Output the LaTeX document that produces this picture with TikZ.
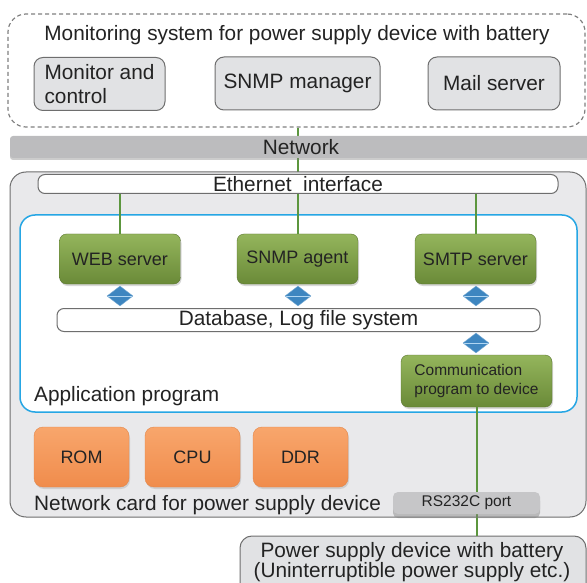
\documentclass[tikz,border=0pt]{standalone}
\usepackage{fontspec}
\setmainfont{Liberation Sans}
\usetikzlibrary{shapes.geometric,shadows,positioning}
\definecolor{CardGray}{RGB}{233,233,235}
\definecolor{BoxGray}{RGB}{225,226,228}
\definecolor{EdgeGray}{RGB}{110,110,110}
\definecolor{DashGray}{RGB}{128,128,128}
\definecolor{BarGray}{RGB}{188,188,190}
\definecolor{AppBlue}{RGB}{38,166,228}
\definecolor{LinkGreen}{RGB}{92,150,62}
\definecolor{LeafTop}{RGB}{148,181,92}
\definecolor{LeafBot}{RGB}{106,138,56}
\definecolor{OrangeTop}{RGB}{248,166,108}
\definecolor{OrangeBot}{RGB}{240,140,76}
\definecolor{OrangeEdge}{RGB}{228,134,72}
\definecolor{DiaBlue}{RGB}{62,134,192}
\definecolor{DiaLine}{RGB}{176,214,242}
\definecolor{InkGray}{RGB}{35,35,35}
\newcommand{\mainsize}{\fontsize{20.8}{24}\selectfont}
\newcommand{\boxsize}{\fontsize{18}{21}\selectfont}
\newcommand{\smallsize}{\fontsize{15.5}{19.5}\selectfont}

\tikzset{
  graybox/.style={draw=EdgeGray,fill=BoxGray,rounded corners=9pt,
    line width=1pt,minimum height=53pt,inner sep=0pt},
  greenbox/.style={draw=LeafBot!85!black,top color=LeafTop,bottom color=LeafBot,
    rounded corners=7pt,line width=0.4pt,
    minimum width=121pt,minimum height=50pt,font=\boxsize,
    drop shadow={opacity=0.3,shadow xshift=1pt,shadow yshift=-2pt}},
  orangebox/.style={draw=OrangeEdge,top color=OrangeTop,bottom color=OrangeBot,
    rounded corners=9pt,minimum width=95pt,minimum height=60pt,font=\boxsize,
    drop shadow={opacity=0.25,shadow xshift=1pt,shadow yshift=-2pt}},
  whitebar/.style={draw=EdgeGray,fill=white,rounded corners=7pt,
    line width=1pt,inner sep=0pt},
  link/.style={LinkGreen,line width=2pt},
  dia/.style={diamond,draw=DiaBlue!70!white,fill=DiaBlue,inner sep=0pt,
    minimum width=26pt,minimum height=20pt,
    path picture={\draw[DiaLine,line width=1pt]
      (path picture bounding box.west)--(path picture bounding box.east);}},
  label/.style={inner sep=0pt,anchor=west}
}

\begin{document}
\begin{tikzpicture}[x=1pt,y=-1pt,font=\mainsize,text=InkGray]
  \path[use as bounding box] (0,0) rectangle (587,583);
  \clip (0,0) rectangle (587,583);
  % monitoring side
  \node[draw=DashGray,dash pattern=on 4pt off 3pt,line width=1.2pt,
    rounded corners=18pt,minimum width=577pt,minimum height=113pt]
    (monsys) at (296.5,70.5) {};
  \node (monsystitle) at (297,35) {Monitoring system for power supply device with battery};
  \node[graybox,minimum width=131pt,align=left] (monitor) at (99.5,84)
    {Monitor and\\control};
  \node[graybox,minimum width=165pt] (snmpmgr) at (297.5,83.5) {SNMP manager};
  \node[graybox,minimum width=132pt] (mailsrv) at (494,83.5) {Mail server};
  % network
  \node[inner sep=0pt] (ethtmp) at (298,183.5) {};
  \draw[link] (monsys.south -| ethtmp) -- (ethtmp);
  \node[fill=BarGray,rounded corners=3pt,minimum width=582pt,minimum height=22pt,
    inner sep=0pt,drop shadow={opacity=0.4,shadow xshift=0pt,shadow yshift=-2pt}]
    (network) at (301,147) {Network};
  % network card
  \node[draw=EdgeGray,fill=CardGray,line width=1pt,rounded corners=16pt,
    minimum width=576pt,minimum height=345pt] (card) at (298,344.5) {};
  \node[whitebar,minimum width=520pt,minimum height=19pt] (eth) at (298,184)
    {Ethernet~~interface};
  \node[draw=AppBlue,fill=white,line width=1.5pt,rounded corners=15pt,
    minimum width=557pt,minimum height=197pt] (app) at (298.5,313.5) {};
  \node[greenbox] (websrv) at (120,259) {WEB server};
  \node[greenbox] (snmpagt) at (297.5,259) {SNMP agent};
  \node[greenbox] (smtpsrv) at (475.5,259) {SMTP server};
  \draw[link] (eth.south -| websrv.north) -- (websrv.north);
  \draw[link] (eth.south -| snmpagt.north) -- (snmpagt.north);
  \draw[link] (eth.south -| smtpsrv.north) -- (smtpsrv.north);
  \node[whitebar,minimum width=483pt,minimum height=23pt] (db) at (298.5,320)
    {Database, Log file system};
  \node[dia] (diaweb) at (120,296) {};
  \node[dia] (diasnmp) at (298,296) {};
  \node[dia] (diasmtp) at (476,296) {};
  \node[dia] (diacomm) at (476,343) {};
  \node[greenbox,minimum width=151pt,minimum height=52pt,font=\smallsize,
    align=left] (comm) at (476.5,381) {Communication\\program to device};
  \node[label] (applabel) at (34,396.5) {Application program};
  \node[orangebox] (rom) at (81.5,457) {ROM};
  \node[orangebox] (cpu) at (192.5,457) {CPU};
  \node[orangebox] (ddr) at (300.5,457) {DDR};
  \node[label] (cardlabel) at (34,505) {Network card for power supply device};
  % device side
  \node[draw=EdgeGray,fill=BoxGray,line width=1pt,rounded corners=12pt,
    minimum width=346pt,minimum height=64pt] (powerbox) at (413,568) {};
  \draw[link] (comm.south) -- (comm.south |- powerbox.north);
  \node[fill=BarGray!85!white,rounded corners=5pt,minimum width=147pt,
    minimum height=22pt,inner sep=0pt,font=\smallsize,
    drop shadow={opacity=0.45,shadow xshift=0pt,shadow yshift=-4pt}]
    (rsport) at (466.5,503) {RS232C port};
  \node[align=center,inner sep=0pt,font=\fontsize{20.8}{19.5}\selectfont]
    (powertext) at (412,562)
    {Power supply device with battery\\(Uninterruptible power supply etc.)};
\end{tikzpicture}
\end{document}
